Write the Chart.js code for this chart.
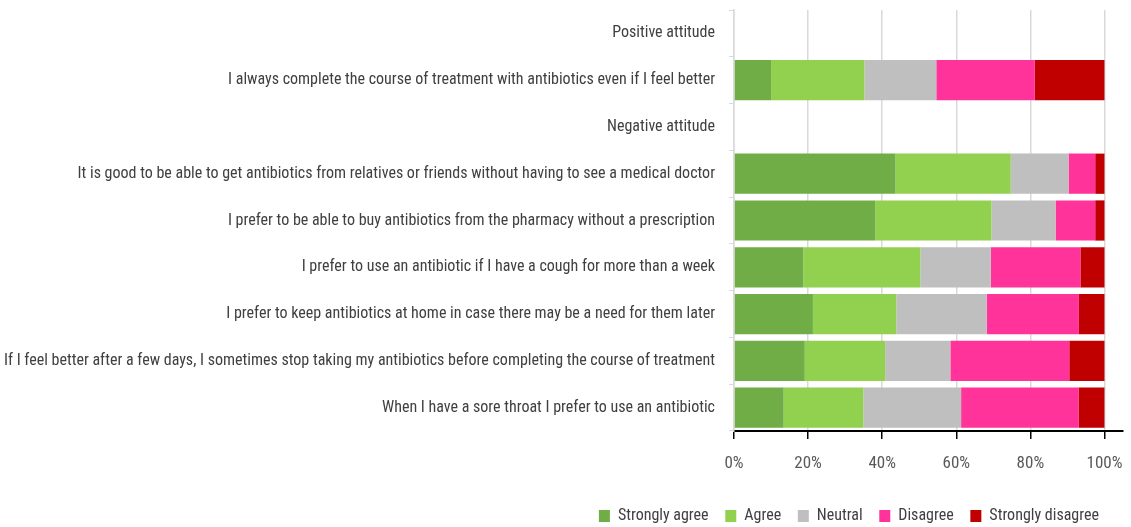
<!DOCTYPE html>
<html>
<head>
<meta charset="utf-8">
<script src="https://cdn.jsdelivr.net/npm/chart.js@4"></script>
<style>
  html, body { margin: 0; padding: 0; background: #fff; }
  #wrap { width: 1131px; height: 527px; }
</style>
</head>
<body>
<div id="wrap"><canvas id="myChart"></canvas></div>
<script>
var statements = [
  "Positive attitude",
  "I always complete the course of treatment with antibiotics even if I feel better",
  "Negative attitude",
  "It is good to be able to get antibiotics from relatives or friends without having to see a medical doctor",
  "I prefer to be able to buy antibiotics from the pharmacy without a prescription",
  "I prefer to use an antibiotic if I have a cough for more than a week",
  "I prefer to keep antibiotics at home in case there may be a need for them later",
  "If I feel better after a few days, I sometimes stop taking my antibiotics before completing the course of treatment",
  "When I have a sore throat I prefer to use an antibiotic"
];

// percentages per answer (null = heading row)
var stronglyAgree    = [null, 10.0, null, 43.6, 38.1, 18.7, 21.3, 19.1, 13.4];
var agree            = [null, 25.2, null, 31.1, 31.4, 31.6, 22.5, 21.7, 21.5];
var neutral          = [null, 19.4, null, 15.6, 17.3, 19.0, 24.4, 17.6, 26.4];
var disagree         = [null, 26.6, null,  7.2, 10.7, 24.2, 24.9, 32.1, 31.7];
var stronglyDisagree = [null, 18.8, null,  2.5,  2.5,  6.5,  6.9,  9.5,  7.0];

var xTicks = [0, 20, 40, 60, 80, 100];

var fontFam = "'Roboto Condensed', 'Liberation Sans Narrow', sans-serif";

function ds(label, data, color) {
  return { label: label, data: data, backgroundColor: color, borderWidth: 0,
           barPercentage: 0.86, categoryPercentage: 1.0 };
}

var ctx = document.getElementById('myChart').getContext('2d');
var chart = new Chart(ctx, {
  type: 'bar',
  data: {
    labels: statements,
    datasets: [
      ds("Strongly agree", stronglyAgree, '#70AD47'),
      ds("Agree", agree, '#92D050'),
      ds("Neutral", neutral, '#BFBFBF'),
      ds("Disagree", disagree, '#FF3399'),
      ds("Strongly disagree", stronglyDisagree, '#C00000')
    ]
  },
  options: {
    indexAxis: 'y',
    responsive: true,
    maintainAspectRatio: false,
    animation: false,
    layout: { padding: { top: 10, right: 8, left: 0, bottom: -7 } },
    scales: {
      x: {
        stacked: true,
        min: 0,
        max: 105,
        afterBuildTicks: function (scale) {
          scale.ticks = xTicks.map(function (v) { return { value: v }; });
        },
        afterFit: function (scale) {
          scale.height = 75;
          scale.paddingLeft = 0;
          scale.paddingRight = 0;
        },
        grid: { color: '#d9d9d9', lineWidth: 1.5, tickColor: '#000', tickLength: 8 },
        border: { color: '#000', width: 2 },
        ticks: {
          padding: 15,
          color: '#595959',
          font: { family: fontFam, size: 17 },
          callback: function (v) { return v + '%'; }
        }
      },
      y: {
        stacked: true,
        afterFit: function (scale) {
          scale.width = 734;
          scale.paddingTop = 0;
          scale.paddingBottom = 0;
        },
        grid: { drawOnChartArea: false, color: '#d9d9d9', tickLength: 5 },
        border: { color: '#d9d9d9', width: 1.5 },
        ticks: {
          padding: 14,
          color: '#404040',
          font: { family: fontFam, size: 16 }
        }
      }
    },
    plugins: {
      legend: {
        position: 'bottom',
        align: 'end',
        labels: {
          boxWidth: 11,
          boxHeight: 12,
          padding: 2,
          color: '#404040',
          font: { family: fontFam, size: 16 },
          generateLabels: function (c) {
            var items = Chart.defaults.plugins.legend.labels.generateLabels(c);
            items.forEach(function (it, i) {
              it.text = it.text + (i === items.length - 1 ? '      ' : '    ');
            });
            return items;
          }
        }
      },
      tooltip: { enabled: false }
    }
  }
});
</script>
</body>
</html>
